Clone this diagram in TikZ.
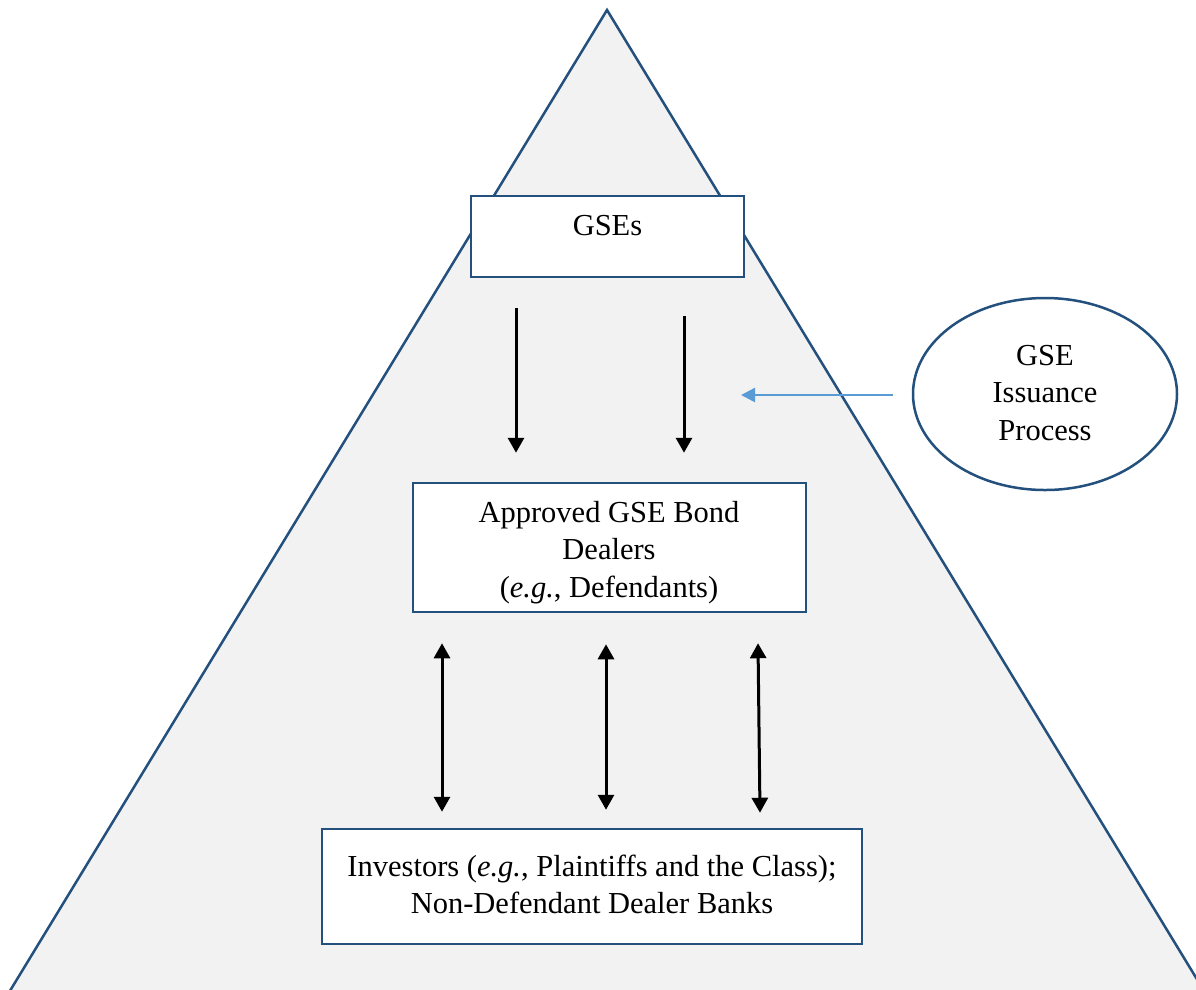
\documentclass[tikz,border=0pt]{standalone}
\usepackage{fontspec}
\setmainfont{Liberation Serif}
\usetikzlibrary{arrows.meta,shapes.geometric}
\definecolor{edgeblue}{RGB}{35,80,125}
\definecolor{tri}{RGB}{242,242,242}
\definecolor{lightblue}{RGB}{91,155,213}
\tikzset{
  boxnode/.style={draw=edgeblue, line width=2.5pt, fill=white, rectangle, inner sep=0pt},
  txt/.style={anchor=base, inner sep=0pt, font=\fontsize{30.5}{37.5}\selectfont},
  arr/.style={line width=3pt, -{Triangle[width=16pt,length=15pt]}},
  dblarr/.style={line width=3pt, {Triangle[width=16pt,length=15pt]}-{Triangle[width=16pt,length=15pt]}},
  bluearr/.style={draw=lightblue, line width=2.5pt, -{Triangle[width=14pt,length=14pt]}, color=lightblue}
}
\begin{document}
\begin{tikzpicture}[x=1pt,y=-1pt]
\useasboundingbox (0,0) rectangle (1196,989);
\fill[white] (0,0) rectangle (1196,989);
\begin{scope}
\clip (0,0) rectangle (1196,989);
\draw[edgeblue, fill=tri, line width=2.5pt, line join=miter] (607,10) -- (1209,999) -- (5,999) -- cycle;
\end{scope}
% boxes
\node[boxnode, minimum width=273pt, minimum height=81pt] (gses) at (607.5,236.5) {};
\node[boxnode, minimum width=393pt, minimum height=129pt] (dealers) at (609.5,547.5) {};
\node[boxnode, minimum width=540pt, minimum height=115pt] (investors) at (592,886.5) {};
\node[draw=edgeblue, line width=2.5pt, fill=white, ellipse, inner sep=0pt, minimum width=264pt, minimum height=192pt] (proc) at (1045,394) {};
% texts
\node[txt] (gsesT) at (607.5,235) {GSEs};
\node[txt] (dealersT) at (609,522) {\begin{tabular}[t]{@{}c@{}}Approved GSE Bond\\Dealers\\(\textit{e.g.}, Defendants)\end{tabular}};
\node[txt] (investorsT) at (592,876) {\begin{tabular}[t]{@{}c@{}}Investors (\textit{e.g.}, Plaintiffs and the Class);\\Non-Defendant Dealer Banks\end{tabular}};
\node[txt] (procT) at (1045,365) {\begin{tabular}[t]{@{}c@{}}GSE\\Issuance\\Process\end{tabular}};
% arrows
\draw[arr] ([xshift=-91.5pt,yshift=-30pt]gses.south) -- ([xshift=-93.5pt,yshift=29pt]dealers.north);
\draw[arr] ([xshift=76.5pt,yshift=-38pt]gses.south) -- ([xshift=74.5pt,yshift=29pt]dealers.north);
\draw[dblarr] ([xshift=-167.5pt,yshift=-30pt]dealers.south) -- ([xshift=-150pt,yshift=16pt]investors.north);
\draw[dblarr] ([xshift=-3.5pt,yshift=-31pt]dealers.south) -- ([xshift=14pt,yshift=18pt]investors.north);
\draw[dblarr] ([xshift=148.5pt,yshift=-30pt]dealers.south) -- ([xshift=168pt,yshift=15pt]investors.north);
\coordinate (issue) at (741,395);
\draw[bluearr] ([xshift=-19pt,yshift=-1pt]proc.west) -- (issue);
\end{tikzpicture}
\end{document}
